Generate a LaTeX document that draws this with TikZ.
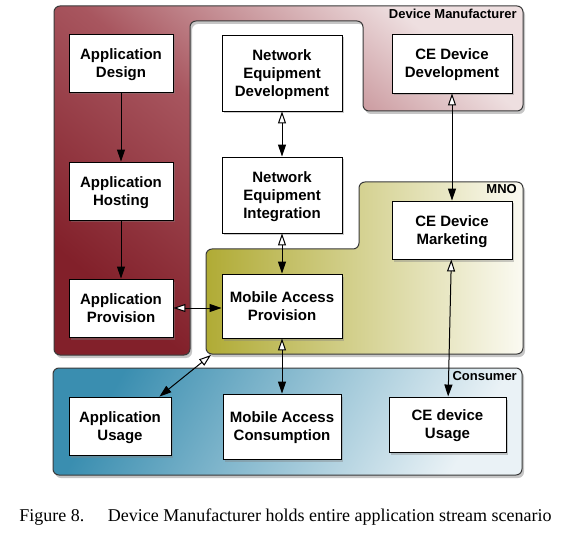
\documentclass[tikz,border=0pt]{standalone}
\usepackage{fontspec}
\setmainfont{Liberation Serif}
\newfontfamily\labelfont{Liberation Sans}
\usetikzlibrary{arrows.meta,shadows}

\definecolor{dmdark}{HTML}{82202A}
\definecolor{dmmid}{HTML}{A8565F}
\definecolor{dmlight}{HTML}{EEDFE0}
\definecolor{mnodark}{HTML}{B0AB35}
\definecolor{mnolight}{HTML}{FBFAF2}
\definecolor{condark}{HTML}{3A8EB0}
\definecolor{conlight}{HTML}{EAF2F6}
\definecolor{edge}{HTML}{3A3A3A}

\begin{document}
\begin{tikzpicture}[x=1pt,y=-1pt,
  region/.style={draw=edge, line width=1pt, rounded corners=6pt,
    drop shadow={shadow xshift=2pt, shadow yshift=-3pt, opacity=0.45}},
  stage/.style={draw=black, line width=0.9pt, fill=white, align=center, inner sep=0pt,
    font=\labelfont\bfseries\fontsize{15}{18}\selectfont, text depth=-11pt,
    drop shadow={shadow xshift=2pt, shadow yshift=-2.5pt, opacity=0.4}},
  owner/.style={anchor=east, inner sep=0pt,
    font=\labelfont\bfseries\fontsize{13}{15}\selectfont},
  flow/.style={line width=1pt, -{Triangle[length=12pt,width=8pt]}},
  link/.style={line width=1pt,
    {Triangle[open,fill=white,length=12pt,width=8pt]}-{Triangle[length=12pt,width=8pt]}},
]
\useasboundingbox (0,0) rectangle (567,545);

% ownership regions
\path[region, top color=dmlight, bottom color=dmdark, middle color=dmmid, shading angle=-40]
  (54,6) -- (523,6) -- (523,111) -- (363,111) -- (363,21) -- (190,21)
  -- (190,355) -- (54,355) -- cycle;
\path[region, left color=mnodark, right color=mnolight]
  (206,249) -- (359,249) -- (359,182) -- (523,182) -- (523,354) -- (206,354) -- cycle;
\path[region, top color=condark, bottom color=conlight, shading angle=60]
  (53,368) rectangle (522,475);

\node[owner] (dmlabel) at (517,14) {Device Manufacturer};
\node[owner] (mnolabel) at (517,189) {MNO};
\node[owner] (conlabel) at (517,376) {Consumer};
\coordinate (mnocorner) at (211,355);

% activities
\node[stage, minimum width=104pt, minimum height=58pt] (adesign) at (121,63) {Application\\Design};
\node[stage, minimum width=104pt, minimum height=58pt] (ahost) at (121,191) {Application\\Hosting};
\node[stage, minimum width=104pt, minimum height=58pt] (aprov) at (121,308) {Application\\Provision};
\node[stage, minimum width=120pt, minimum height=76pt] (ned) at (282,73) {Network\\Equipment\\Development};
\node[stage, minimum width=120pt, minimum height=76pt] (nei) at (282,195) {Network\\Equipment\\Integration};
\node[stage, minimum width=120pt, minimum height=64pt] (map) at (282,306) {Mobile Access\\Provision};
\node[stage, minimum width=120pt, minimum height=59pt] (cedd) at (452,63.5) {CE Device\\Development};
\node[stage, minimum width=120pt, minimum height=58pt] (cedm) at (452,230) {CE Device\\Marketing};
\node[stage, minimum width=102pt, minimum height=58pt] (ausage) at (120,426) {Application\\Usage};
\node[stage, minimum width=118pt, minimum height=65pt] (mac) at (282,426.5) {Mobile Access\\Consumption};
\node[stage, minimum width=117pt, minimum height=55pt] (ceu) at (447.5,424.5) {CE device\\Usage};

% connectors
\draw[flow] (adesign) -- (ahost);
\draw[flow] (ahost) -- (aprov);
\draw[link] (ned) -- (nei);
\draw[link] (nei) -- (map);
\draw[link] (cedd) -- (cedm);
\draw[link] (aprov.east) -- (aprov.east -| map.west);
\draw[link] (map) -- (mac);
\draw[link] (cedm) -- (ceu);
\draw[link] (mnocorner) -- ([xshift=-12pt]ausage.north east);

% caption
\node[font=\fontsize{18}{21}\selectfont, inner sep=0pt] (caption) at (285.5,517)
  {Figure 8.\hspace{1.3em}Device Manufacturer holds entire application stream scenario};
\end{tikzpicture}
\end{document}
